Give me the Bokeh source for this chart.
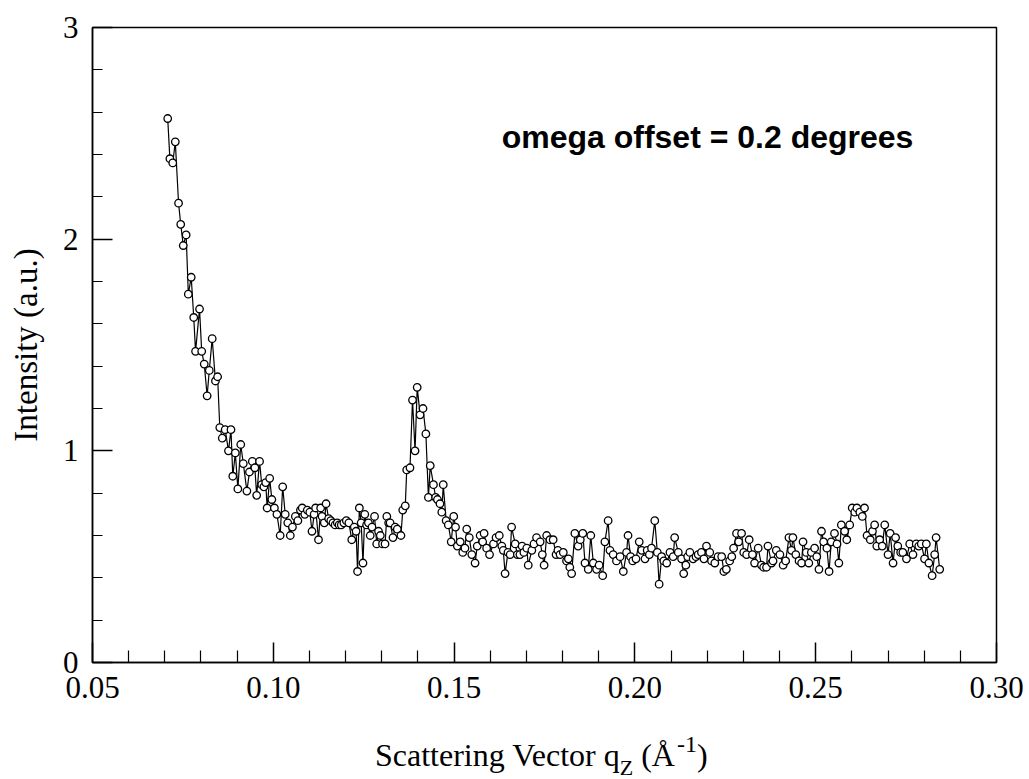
from bokeh.plotting import figure
from bokeh.layouts import column
from bokeh.models import (ColumnDataSource, Range1d, FixedTicker,
                          PrintfTickFormatter, Label, Div)
from bokeh.embed import file_html
from bokeh.resources import INLINE

# Scattering vector q_z (1/Angstrom)
q_values = [
    0.0708, 0.0714, 0.0722, 0.0729, 0.0738, 0.0744, 0.0751, 0.0759, 0.0765, 0.0773,
    0.0780, 0.0785, 0.0796, 0.0802, 0.0809, 0.0817, 0.0823, 0.0831, 0.0840, 0.0846,
    0.0852, 0.0859, 0.0867, 0.0876, 0.0883, 0.0888, 0.0895, 0.0902, 0.0910, 0.0917,
    0.0927, 0.0934, 0.0942, 0.0949, 0.0954, 0.0962, 0.0968, 0.0974, 0.0979, 0.0983,
    0.0990, 0.0996, 0.1003, 0.1010, 0.1019, 0.1026, 0.1033, 0.1040, 0.1047, 0.1053,
    0.1061, 0.1068, 0.1075, 0.1080, 0.1087, 0.1094, 0.1101, 0.1107, 0.1113, 0.1117,
    0.1125, 0.1131, 0.1135, 0.1141, 0.1146, 0.1153, 0.1159, 0.1165, 0.1171, 0.1177,
    0.1182, 0.1188, 0.1195, 0.1202, 0.1209, 0.1217, 0.1224, 0.1229, 0.1233, 0.1238,
    0.1243, 0.1248, 0.1253, 0.1258, 0.1263, 0.1268, 0.1273, 0.1280, 0.1286, 0.1291,
    0.1296, 0.1302, 0.1309, 0.1314, 0.1319, 0.1323, 0.1331, 0.1337, 0.1343, 0.1353,
    0.1358, 0.1365, 0.1369, 0.1378, 0.1385, 0.1392, 0.1398, 0.1406, 0.1414, 0.1422,
    0.1429, 0.1434, 0.1443, 0.1449, 0.1454, 0.1461, 0.1466, 0.1470, 0.1478, 0.1484,
    0.1492, 0.1499, 0.1504, 0.1509, 0.1517, 0.1524, 0.1530, 0.1535, 0.1542, 0.1549,
    0.1558, 0.1564, 0.1572, 0.1579, 0.1583, 0.1590, 0.1598, 0.1609, 0.1616, 0.1625,
    0.1632, 0.1636, 0.1641, 0.1649, 0.1655, 0.1659, 0.1669, 0.1675, 0.1682, 0.1688,
    0.1693, 0.1701, 0.1705, 0.1715, 0.1721, 0.1728, 0.1738, 0.1744, 0.1749, 0.1756,
    0.1765, 0.1774, 0.1782, 0.1787, 0.1793, 0.1802, 0.1811, 0.1816, 0.1820, 0.1825,
    0.1834, 0.1843, 0.1849, 0.1856, 0.1862, 0.1871, 0.1878, 0.1885, 0.1894, 0.1901,
    0.1911, 0.1917, 0.1926, 0.1931, 0.1940, 0.1949, 0.1959, 0.1968, 0.1977, 0.1981,
    0.1988, 0.1994, 0.2003, 0.2012, 0.2019, 0.2028, 0.2034, 0.2040, 0.2046, 0.2055,
    0.2062, 0.2067, 0.2074, 0.2080, 0.2088, 0.2097, 0.2106, 0.2110, 0.2120, 0.2129,
    0.2135, 0.2141, 0.2146, 0.2152, 0.2161, 0.2169, 0.2175, 0.2184, 0.2191, 0.2198,
    0.2207, 0.2212, 0.2221, 0.2230, 0.2240, 0.2246, 0.2253, 0.2262, 0.2268, 0.2273,
    0.2281, 0.2287, 0.2295, 0.2301, 0.2309, 0.2316, 0.2325, 0.2331, 0.2341, 0.2350,
    0.2356, 0.2364, 0.2368, 0.2378, 0.2382, 0.2391, 0.2401, 0.2410, 0.2417, 0.2426,
    0.2433, 0.2437, 0.2445, 0.2454, 0.2461, 0.2465, 0.2474, 0.2481, 0.2488, 0.2497,
    0.2503, 0.2509, 0.2516, 0.2522, 0.2531, 0.2537, 0.2543, 0.2552, 0.2559, 0.2564,
    0.2571, 0.2580, 0.2586, 0.2594, 0.2601, 0.2608, 0.2614, 0.2622, 0.2629, 0.2635,
    0.2642, 0.2651, 0.2657, 0.2663, 0.2669, 0.2677, 0.2684, 0.2691, 0.2700, 0.2706,
    0.2714, 0.2721, 0.2727, 0.2735, 0.2741, 0.2751, 0.2760, 0.2769, 0.2778, 0.2785,
    0.2792, 0.2801, 0.2806, 0.2813, 0.2822, 0.2829, 0.2833, 0.2843,
]

# Measured intensity (a.u.)
intensity = [
    2.57, 2.38, 2.36, 2.46, 2.17, 2.07, 1.97, 2.02, 1.74, 1.82,
    1.63, 1.47, 1.67, 1.47, 1.41, 1.26, 1.38, 1.53, 1.33, 1.35,
    1.11, 1.06, 1.10, 1.00, 1.10, 0.88, 0.99, 0.82, 1.03, 0.94,
    0.81, 0.90, 0.95, 0.92, 0.79, 0.95, 0.84, 0.83, 0.85, 0.73,
    0.87, 0.77, 0.73, 0.70, 0.60, 0.83, 0.70, 0.66, 0.60, 0.64,
    0.69, 0.67, 0.72, 0.73, 0.70, 0.72, 0.71, 0.62, 0.70, 0.73,
    0.58, 0.73, 0.69, 0.66, 0.75, 0.68, 0.67, 0.66, 0.65, 0.66,
    0.65, 0.65, 0.66, 0.67, 0.66, 0.58, 0.64, 0.62, 0.43, 0.73,
    0.66, 0.47, 0.70, 0.65, 0.66, 0.60, 0.64, 0.69, 0.56, 0.62,
    0.60, 0.56, 0.56, 0.69, 0.66, 0.66, 0.59, 0.64, 0.63, 0.60,
    0.72, 0.74, 0.91, 0.92, 1.24, 1.00, 1.30, 1.17, 1.20, 1.08,
    0.78, 0.93, 0.84, 0.78, 0.77, 0.75, 0.71, 0.84, 0.67, 0.65,
    0.57, 0.69, 0.64, 0.55, 0.57, 0.52, 0.54, 0.63, 0.59, 0.51,
    0.47, 0.55, 0.60, 0.57, 0.61, 0.54, 0.51, 0.56, 0.59, 0.60,
    0.55, 0.53, 0.42, 0.52, 0.51, 0.64, 0.56, 0.51, 0.51, 0.55,
    0.52, 0.54, 0.46, 0.53, 0.56, 0.59, 0.57, 0.51, 0.46, 0.60,
    0.58, 0.58, 0.51, 0.53, 0.51, 0.52, 0.48, 0.49, 0.45, 0.42,
    0.61, 0.55, 0.58, 0.61, 0.47, 0.44, 0.60, 0.47, 0.44, 0.46,
    0.41, 0.57, 0.67, 0.53, 0.51, 0.48, 0.50, 0.43, 0.52, 0.60,
    0.50, 0.48, 0.49, 0.57, 0.53, 0.49, 0.53, 0.51, 0.54, 0.67,
    0.52, 0.37, 0.50, 0.48, 0.47, 0.52, 0.50, 0.59, 0.52, 0.49,
    0.42, 0.46, 0.50, 0.52, 0.49, 0.50, 0.51, 0.52, 0.49, 0.55,
    0.52, 0.48, 0.47, 0.50, 0.50, 0.43, 0.44, 0.48, 0.50, 0.54,
    0.61, 0.57, 0.61, 0.52, 0.51, 0.58, 0.51, 0.47, 0.54, 0.46,
    0.45, 0.45, 0.55, 0.47, 0.48, 0.53, 0.51, 0.46, 0.48, 0.59,
    0.53, 0.59, 0.51, 0.48, 0.47, 0.57, 0.52, 0.47, 0.52, 0.54,
    0.50, 0.44, 0.62, 0.57, 0.54, 0.43, 0.57, 0.61, 0.56, 0.47,
    0.65, 0.62, 0.58, 0.65, 0.73, 0.71, 0.73, 0.71, 0.69, 0.73,
    0.60, 0.58, 0.62, 0.65, 0.55, 0.58, 0.55, 0.65, 0.51, 0.61,
    0.47, 0.59, 0.55, 0.52, 0.52, 0.49, 0.56, 0.51, 0.56, 0.55,
    0.56, 0.49, 0.56, 0.47, 0.41, 0.51, 0.59, 0.44,
]

x_limits = (0.05, 0.30)
y_limits = (0.0, 3.0)
x_major = [0.05, 0.10, 0.15, 0.20, 0.25, 0.30]
y_major = [0, 1, 2, 3]
y_label = "Intensity (a.u.)"
annotation = "omega offset = 0.2 degrees"

SERIF = "Liberation Serif"
W = 1029
FIG_H = 725          # plot canvas; the x title sits in a strip below it
TITLE_H = 779 - FIG_H
LEFT, RIGHT, TOP, BOTTOM = 92, 33, 27, FIG_H - 662

src = ColumnDataSource(dict(q=q_values, I=intensity))

p = figure(width=W, height=FIG_H, output_backend="svg", toolbar_location=None,
           x_range=Range1d(*x_limits), y_range=Range1d(*y_limits),
           min_border_left=LEFT, min_border_right=RIGHT,
           min_border_top=TOP, min_border_bottom=BOTTOM)
p.background_fill_color = "white"
p.border_fill_color = "white"
p.outline_line_color = "black"
p.outline_line_width = 1.5
p.xgrid.visible = False
p.ygrid.visible = False

# axes: ticks pointing into the frame, serif labels
x_minor = [round(0.05 + 0.01 * i, 2) for i in range(26) if i % 5]
y_minor = [round(0.2 * i, 1) for i in range(16) if i % 5]
p.xaxis.ticker = FixedTicker(ticks=x_major, minor_ticks=x_minor)
p.yaxis.ticker = FixedTicker(ticks=y_major, minor_ticks=y_minor)
p.xaxis.formatter = PrintfTickFormatter(format="%.2f")
p.yaxis.formatter = PrintfTickFormatter(format="%d")
for ax in (p.xaxis[0], p.yaxis[0]):
    ax.axis_line_color = "black"
    ax.axis_line_width = 1.5
    ax.major_tick_line_color = "black"
    ax.minor_tick_line_color = "black"
    ax.major_tick_line_width = 1.5
    ax.minor_tick_line_width = 1.2
    ax.major_tick_out = 0
    ax.minor_tick_out = 0
    ax.major_tick_in = 20
    ax.major_label_text_font = SERIF
    ax.major_label_text_font_size = "31px"
    ax.major_label_text_color = "black"
p.xaxis.minor_tick_in = 12
p.yaxis.minor_tick_in = 10
p.xaxis.major_label_standoff = 14
p.yaxis.major_label_standoff = 14

p.yaxis.axis_label = y_label
p.yaxis.axis_label_text_font = SERIF
p.yaxis.axis_label_text_font_size = "33px"
p.yaxis.axis_label_text_font_style = "normal"
p.yaxis.axis_label_text_color = "black"
p.yaxis.axis_label_standoff = 16

# data: connected open circles
p.line("q", "I", source=src, line_color="black", line_width=1.2)
p.scatter("q", "I", source=src, marker="circle", size=7.5,
          line_color="black", line_width=1.3, fill_color="white")

frame_w = W - LEFT - RIGHT
frame_h = FIG_H - TOP - BOTTOM


def to_data(px, py):
    """Canvas pixel position -> data coordinates."""
    x = x_limits[0] + (px - LEFT) / frame_w * (x_limits[1] - x_limits[0])
    y = y_limits[0] + (FIG_H - BOTTOM - py) / frame_h * (y_limits[1] - y_limits[0])
    return x, y


# annotation inside the frame
ax_, ay_ = to_data(707, 136)
p.add_layout(Label(x=ax_, y=ay_, text=annotation, text_align="center",
                   text_baseline="alphabetic", text_font="Liberation Sans",
                   text_font_style="bold", text_font_size="32px",
                   text_color="black"))

# x-axis title with subscript Z and superscript -1
x_title_html = (
    '<div style="position:relative; left:375px; top:14px; white-space:nowrap;'
    f' font-family:\'{SERIF}\'; font-size:32px; line-height:32px; color:black;">'
    'Scattering Vector q'
    '<span style="font-size:22px; line-height:0; vertical-align:-9px;">Z</span>'
    ' (\u00c5'
    '<span style="font-size:24px; line-height:0; vertical-align:14px;'
    ' margin-left:2px;">-1</span>'
    ')</div>'
)
x_title = Div(text=x_title_html, width=W, height=TITLE_H, margin=0)

layout = column(p, x_title, spacing=0)
open("out.html", "w").write(file_html(layout, INLINE))
